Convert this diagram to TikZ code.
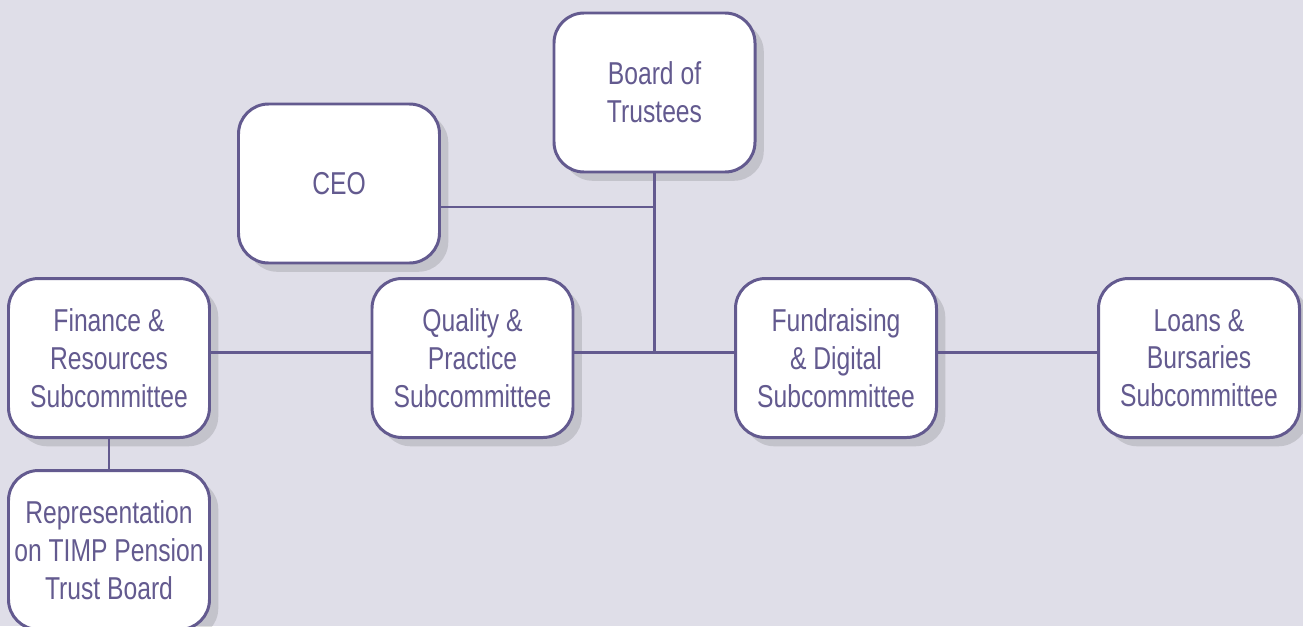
\documentclass[tikz,border=0pt]{standalone}
\usepackage{fontspec}
\setmainfont[FakeStretch=0.78]{Liberation Sans}
\usepackage{tikz}
\usetikzlibrary{positioning,shadows}
\definecolor{bgcol}{HTML}{DFDEE8}
\definecolor{inkcol}{HTML}{635A8F}
\tikzset{
  orgbox/.style={rectangle,rounded corners=0.6cm,draw=inkcol,line width=1.7pt,fill=white,
    text=inkcol,align=center,minimum width=4.02cm,minimum height=3.18cm,
    font=\fontsize{18}{21.5}\selectfont,
    drop shadow={opacity=0.12,shadow xshift=5pt,shadow yshift=-5pt,fill=black}},
  orgline/.style={draw=inkcol,line width=1.7pt}
}

\begin{document}
\begin{tikzpicture}
      \fill[bgcol] (0,0) rectangle (26.06,-12.52);
      \useasboundingbox (0,0) rectangle (26.06,-12.52);
      \begin{scope}
      \clip (0,0) rectangle (26.06,-12.52);
      \node[orgbox](board) at (13.09,-1.85){Board of\\Trustees};
      \node[orgbox](ceo) at (6.78,-3.67){CEO};
      \node[orgbox](finance) at (2.18,-7.16){Finance \&\\Resources\\Subcommittee};
      \node[orgbox](timp) at (2.18,-11.0){Representation\\on TIMP Pension\\Trust Board};
      \node[orgbox](quality) at (9.45,-7.16){Quality \&\\Practice\\Subcommittee};
      \node[orgbox](fundraising) at (16.72,-7.16){Fundraising\\\& Digital\\Subcommittee};
      \node[orgbox](loans) at (23.98,-7.16){Loans \&\\Bursaries\\Subcommittee};
      \coordinate (hub) at (13.1,-7.04);
      \coordinate (ceojoin) at (13.1,-4.14);
      \draw[orgline] (board.south) -- (board.south |- hub);
      \draw[orgline] (ceojoin) -- (ceojoin -| ceo.east);
      \draw[orgline] (quality.east |- hub) -- (fundraising.west |- hub);
      \draw[orgline] (finance.east |- hub) -- (quality.west |- hub);
      \draw[orgline] (fundraising.east |- hub) -- (loans.west |- hub);
      \draw[orgline] (finance.south) -- (timp.north);
      \end{scope}
    \end{tikzpicture}
\end{document}
